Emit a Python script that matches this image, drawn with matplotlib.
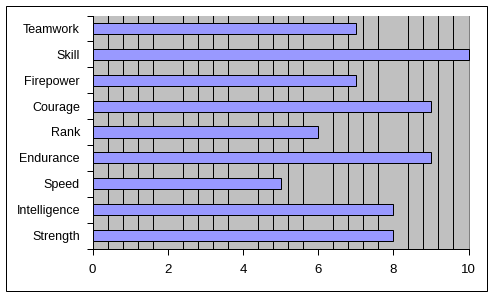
import numpy as np
import matplotlib.pyplot as plt
from matplotlib.patches import Rectangle

categories = ['Strength', 'Intelligence', 'Speed', 'Endurance', 'Rank',
              'Courage', 'Firepower', 'Skill', 'Teamwork']
values = [8, 8, 5, 9, 6, 9, 7, 10, 7]
x_ticks = [0, 2, 4, 6, 8, 10]

plt.rcParams['font.family'] = ['Liberation Sans', 'DejaVu Sans']

fig = plt.figure(figsize=(4.93, 2.96), dpi=100)
W, H = 493, 296
ax = fig.add_axes([92.5 / W, 1 - 248.5 / H, (468.5 - 92.5) / W, (248.5 - 15.5) / H])

lw = 0.72  # one pixel at 100 dpi

# outer chart border
fig.patches.append(Rectangle((5.5 / W, 1 - 290.5 / H), 481 / W, 285 / H,
                             transform=fig.transFigure, fill=False,
                             edgecolor='black', linewidth=lw))

ax.set_facecolor('#C0C0C0')
y = np.arange(len(categories))
bars = ax.barh(y, values, height=0.43, color='#9999FF', edgecolor='black',
               linewidth=lw, zorder=3)
for b in bars:
    b.set_clip_on(False)

ax.set_xlim(0, 10)
ax.set_ylim(-0.5, len(categories) - 0.5)
ax.set_xticks(x_ticks)
ax.set_xticks(np.arange(0, 10.01, 0.4), minor=True)
ax.xaxis.grid(True, which='minor', color='black', linewidth=lw, zorder=1)
ax.set_axisbelow(True)
ax.tick_params(axis='x', which='minor', length=0)
ax.tick_params(axis='x', which='major', length=4, width=lw, labelsize=9.5, pad=7)

ax.set_yticks(y)
ax.set_yticklabels(categories)
ax.set_yticks(np.arange(-0.5, len(categories), 1), minor=True)
ax.tick_params(axis='y', which='major', length=0, labelsize=9, pad=9)
ax.tick_params(axis='y', which='minor', length=4, width=lw)

ax.spines['top'].set_visible(False)
ax.spines['right'].set_color('#808080')
ax.spines['right'].set_linewidth(lw)
ax.spines['left'].set_linewidth(lw)
ax.spines['bottom'].set_linewidth(lw)

fig.savefig('out.png', dpi=100)
